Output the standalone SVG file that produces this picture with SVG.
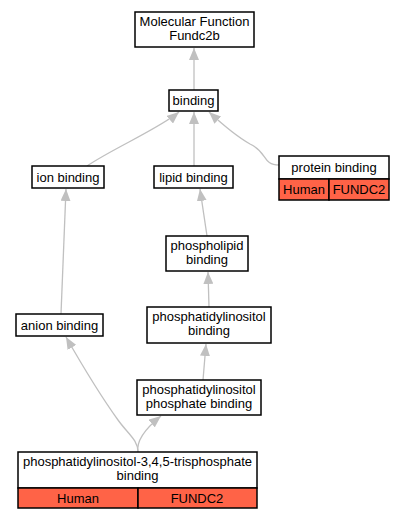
<svg xmlns="http://www.w3.org/2000/svg" width="404" height="520" viewBox="0 0 404 520">
<defs>
<style>
.n{fill:#fff;stroke:#000;stroke-width:1.5}
.r{fill:#ff6347;stroke:#000;stroke-width:1.5}
text{font-family:"Liberation Sans",Arial,sans-serif;font-size:13px;fill:#000;text-anchor:middle}
.e{fill:none;stroke:#c0c0c0;stroke-width:1.3}
</style>
<marker id="a" viewBox="0 0 12 10" refX="12" refY="5" markerWidth="12" markerHeight="10" markerUnits="userSpaceOnUse" orient="auto">
<path d="M0,0 L12,5 L0,10 z" fill="#c0c0c0"/>
</marker>
</defs>
<rect width="404" height="520" fill="#fff"/>
<g id="edges">
<path class="e" marker-end="url(#a)" d="M194,90 L194,48"/>
<path class="e" marker-end="url(#a)" d="M87,166 C110,150 160,128 179,112"/>
<path class="e" marker-end="url(#a)" d="M194,166 L194,112"/>
<path class="e" marker-end="url(#a)" d="M279,165 C262,165 268,152 250,144 C236,136 222,124 209,112"/>
<path class="e" marker-end="url(#a)" d="M207,236 L200,189"/>
<path class="e" marker-end="url(#a)" d="M61,314 L66,189"/>
<path class="e" marker-end="url(#a)" d="M209,307 L208,272"/>
<path class="e" marker-end="url(#a)" d="M203,380 L206,344"/>
<path class="e" marker-end="url(#a)" d="M138,452 C136,440 146,428 161,416"/>
<path class="e" marker-end="url(#a)" d="M138,452 C138,440 128,434 118,420 C100,395 82,365 66,337"/>
</g>
<g id="mf">
<rect class="n" x="135" y="12" width="119" height="35"/>
<text x="194.5" y="26">Molecular Function</text>
<text x="194.5" y="40">Fundc2b</text>
</g>
<g id="binding">
<rect class="n" x="169" y="90" width="49" height="21"/>
<text x="193.5" y="105">binding</text>
</g>
<g id="ion">
<rect class="n" x="32" y="166" width="72" height="22"/>
<text x="68" y="181.5">ion binding</text>
</g>
<g id="lipid">
<rect class="n" x="154" y="166" width="79" height="22"/>
<text x="193.5" y="181.5">lipid binding</text>
</g>
<g id="protein">
<rect class="n" x="279" y="156" width="110" height="23"/>
<rect class="r" x="279" y="179" width="50" height="21"/>
<rect class="r" x="329" y="179" width="60" height="21"/>
<text x="334" y="171.5">protein binding</text>
<text x="304" y="194">Human</text>
<text x="359" y="194">FUNDC2</text>
</g>
<g id="phospholipid">
<rect class="n" x="166" y="236" width="82" height="35"/>
<text x="207" y="250">phospholipid</text>
<text x="207" y="264">binding</text>
</g>
<g id="anion">
<rect class="n" x="16" y="314" width="87" height="22"/>
<text x="59.5" y="329.5">anion binding</text>
</g>
<g id="pi">
<rect class="n" x="147" y="307" width="124" height="36"/>
<text x="209" y="321">phosphatidylinositol</text>
<text x="209" y="335">binding</text>
</g>
<g id="pip">
<rect class="n" x="137" y="380" width="124" height="35"/>
<text x="199" y="394">phosphatidylinositol</text>
<text x="199" y="408">phosphate binding</text>
</g>
<g id="pip3">
<rect class="n" x="18" y="452" width="239" height="36"/>
<rect class="r" x="18" y="488" width="120" height="20"/>
<rect class="r" x="138" y="488" width="119" height="20"/>
<text x="137.5" y="466">phosphatidylinositol-3,4,5-trisphosphate</text>
<text x="137.5" y="480">binding</text>
<text x="78" y="502.5">Human</text>
<text x="197" y="502.5">FUNDC2</text>
</g>
</svg>
